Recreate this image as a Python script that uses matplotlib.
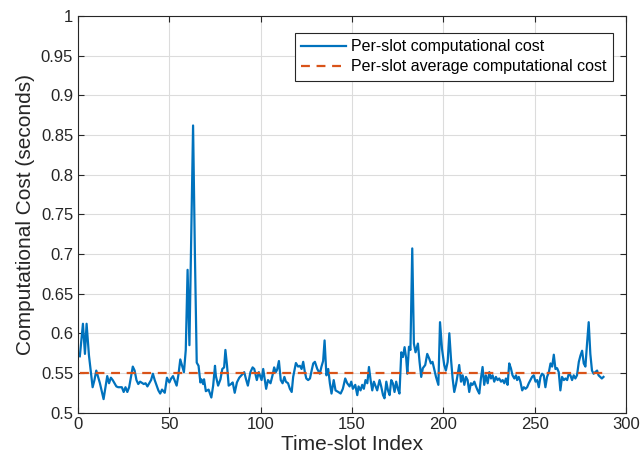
import numpy as np
import matplotlib
matplotlib.use("Agg")
import matplotlib.pyplot as plt
from matplotlib.ticker import FuncFormatter

# slot positions and per-slot cost
slots = [1, 2.7, 3.8, 4.7, 6, 8, 9, 10, 11, 12, 14, 16, 17, 18, 19, 21, 22, 24, 25, 26,
         27, 28, 30, 31, 32, 33, 34, 36, 37, 38, 40, 41, 42, 44, 45, 46, 47.5,
         48.7, 50, 51, 52, 54, 55, 56, 57, 58, 59, 60, 61, 62, 63, 64, 65, 66, 67,
         67.5, 68.5, 69, 70, 71.5, 73, 74, 75, 75.5, 76.7, 78, 79, 80, 80.7, 81.6,
         82.5, 83.8, 84.7, 85.8, 87, 88.3, 89.8, 91, 92, 93, 94.4, 95.6, 96.5, 97.3,
         97.9, 99, 100.5, 101.4, 103, 104, 105.4, 106.5, 107.4, 108.3, 109, 110, 111,
         112, 113, 113.8, 115, 116, 117, 117.8, 119.3, 120.5, 121.5, 122.4, 123.3,
         124.2, 125, 126, 127, 127.9, 128.8, 129.7, 131, 132.4, 133.3, 134.2, 135,
         136, 137, 137.9, 138.8, 140, 141, 142.5, 143.8, 145, 146.3, 147.4, 148.7,
         149.6, 150.5, 151.8, 152.9, 153.6, 154.7, 155.6, 156.5, 157.4, 158.4, 159.3,
         160.2, 161.1, 162, 163, 163.8, 165.1, 166, 167, 167.8, 168.8, 169.7, 170.6,
         171.5, 172.4, 173.3, 174.2, 175.1, 176, 177, 177.9, 178.8, 179.7, 180.3,
         181.2, 182, 183, 183.9, 184.8, 186.1, 187, 187.9, 188.8, 190.1, 191.2, 192.3,
         193.2, 194.1, 195, 196, 197.3, 198.2, 199.3, 200.5, 201.4, 202.4, 203.3,
         204.2, 205.1, 206, 206.9, 207.8, 208.7, 209.7, 210.6, 211.5, 212.4, 213.3,
         214.2, 215.1, 216, 217, 217.9, 218.8, 219.7, 220.6, 221.5, 222.4, 223.3,
         224.3, 225.2, 226.1, 227, 227.9, 228.8, 229.7, 230.6, 231.6, 232.5, 233.4,
         234.3, 235.2, 236.1, 237, 237.9, 238.9, 239.8, 240.4, 241.3, 242.2, 243.2,
         244.1, 245, 245.9, 246.8, 247.7, 248.6, 249.5, 250.5, 251.4, 252.3, 253.2,
         254.1, 255, 255.9, 256.8, 257.8, 258.7, 259.6, 260.5, 261.4, 262.3, 263.2,
         264.1, 265, 266, 266.9, 267.8, 268.7, 269.6, 270.5, 271.4, 272.3, 273.2,
         274.2, 275.1, 276, 276.9, 277.8, 278.7, 279.6, 280.5, 281.4, 282.3, 283.2,
         284.2, 285, 285.9, 286.8, 287.7]
cost = [0.571, 0.612, 0.574, 0.612, 0.572, 0.532, 0.541, 0.553, 0.545, 0.537, 0.517,
        0.546, 0.537, 0.544, 0.541, 0.533, 0.532, 0.532, 0.526, 0.532, 0.526, 0.532,
        0.558, 0.553, 0.541, 0.536, 0.539, 0.536, 0.537, 0.533, 0.541, 0.549, 0.541,
        0.528, 0.524, 0.529, 0.525, 0.544, 0.538, 0.543, 0.546, 0.534, 0.548, 0.567,
        0.559, 0.551, 0.579, 0.680, 0.585, 0.725, 0.862, 0.700, 0.563, 0.559, 0.538,
        0.542, 0.536, 0.542, 0.527, 0.529, 0.519, 0.534, 0.559, 0.546, 0.534, 0.542,
        0.555, 0.557, 0.579, 0.559, 0.534, 0.536, 0.538, 0.525, 0.538, 0.544, 0.548,
        0.551, 0.542, 0.534, 0.551, 0.557, 0.555, 0.547, 0.541, 0.551, 0.541, 0.555,
        0.530, 0.541, 0.537, 0.547, 0.557, 0.551, 0.554, 0.565, 0.541, 0.537, 0.545,
        0.539, 0.537, 0.530, 0.526, 0.545, 0.5625, 0.558, 0.559, 0.555, 0.564, 0.551,
        0.543, 0.541, 0.543, 0.553, 0.562, 0.564, 0.555, 0.549, 0.558, 0.565, 0.591,
        0.547, 0.555, 0.537, 0.524, 0.541, 0.528, 0.526, 0.524, 0.530, 0.543, 0.537,
        0.533, 0.539, 0.530, 0.535, 0.522, 0.533, 0.528, 0.535, 0.530, 0.541, 0.537,
        0.5575, 0.541, 0.528, 0.539, 0.533, 0.528, 0.541, 0.533, 0.522, 0.518, 0.539,
        0.528, 0.522, 0.541, 0.537, 0.526, 0.539, 0.530, 0.524, 0.576, 0.570, 0.5825,
        0.568, 0.549, 0.583, 0.579, 0.707, 0.587, 0.576, 0.587, 0.564, 0.545, 0.556,
        0.560, 0.574, 0.568, 0.562, 0.564, 0.555, 0.545, 0.535, 0.614, 0.580, 0.560,
        0.553, 0.564, 0.600, 0.568, 0.543, 0.526, 0.535, 0.547, 0.560, 0.539, 0.547,
        0.535, 0.545, 0.541, 0.526, 0.537, 0.535, 0.539, 0.533, 0.528, 0.524, 0.543,
        0.5575, 0.535, 0.547, 0.537, 0.551, 0.543, 0.547, 0.539, 0.545, 0.541, 0.543,
        0.539, 0.541, 0.537, 0.543, 0.535, 0.562, 0.556, 0.547, 0.543, 0.547, 0.541,
        0.545, 0.539, 0.528, 0.532, 0.530, 0.532, 0.537, 0.541, 0.545, 0.547, 0.539,
        0.541, 0.532, 0.545, 0.549, 0.547, 0.532, 0.545, 0.551, 0.562, 0.558, 0.573,
        0.555, 0.556, 0.551, 0.528, 0.545, 0.541, 0.543, 0.541, 0.549, 0.547, 0.541,
        0.547, 0.543, 0.547, 0.564, 0.572, 0.578, 0.562, 0.558, 0.587, 0.614, 0.574,
        0.553, 0.549, 0.551, 0.553, 0.547, 0.545, 0.543, 0.545]
avg_cost = 0.55

blue = "#0072BD"
orange = "#D95319"

plt.rcParams['font.family'] = ['Liberation Sans', 'DejaVu Sans']

fig = plt.figure(figsize=(6.42, 4.71), dpi=100)
ax = fig.add_axes([0.1215, 0.124, 0.8535, 0.842])

ax.plot(slots, cost, color=blue, linewidth=1.6, label="Per-slot computational cost")
ax.plot([slots[0], slots[-1]], [avg_cost, avg_cost], color=orange, linewidth=1.6,
        linestyle=(0, (4, 3)), label="Per-slot average computational cost")

ax.set_xlim(0, 300)
ax.set_ylim(0.5, 1)
ax.set_xticks(np.arange(0, 301, 50))
ax.set_yticks(np.arange(0.5, 1.001, 0.05))
ax.yaxis.set_major_formatter(FuncFormatter(lambda v, p: f"{v:g}"))
ax.grid(True, color="#dcdcdc", linewidth=0.8)
ax.set_axisbelow(True)
ax.tick_params(direction="in", top=True, right=True, labelsize=12, colors="#262626",
               length=4, width=0.8)
for s in ax.spines.values():
    s.set_color("#262626")
    s.set_linewidth(0.8)

ax.set_xlabel("Time-slot Index", fontsize=15, color="#262626", labelpad=2)
ax.set_ylabel("Computational Cost (seconds)", fontsize=15, color="#262626", labelpad=4)

leg = ax.legend(loc="upper right", bbox_to_anchor=(0.976, 0.957), fontsize=11.5,
                fancybox=False, edgecolor="#262626", framealpha=1, borderpad=0.4,
                handlelength=2.8, handletextpad=0.3, labelspacing=0.3, borderaxespad=0)
leg.get_frame().set_linewidth(0.8)

fig.savefig("out.png", dpi=100)
